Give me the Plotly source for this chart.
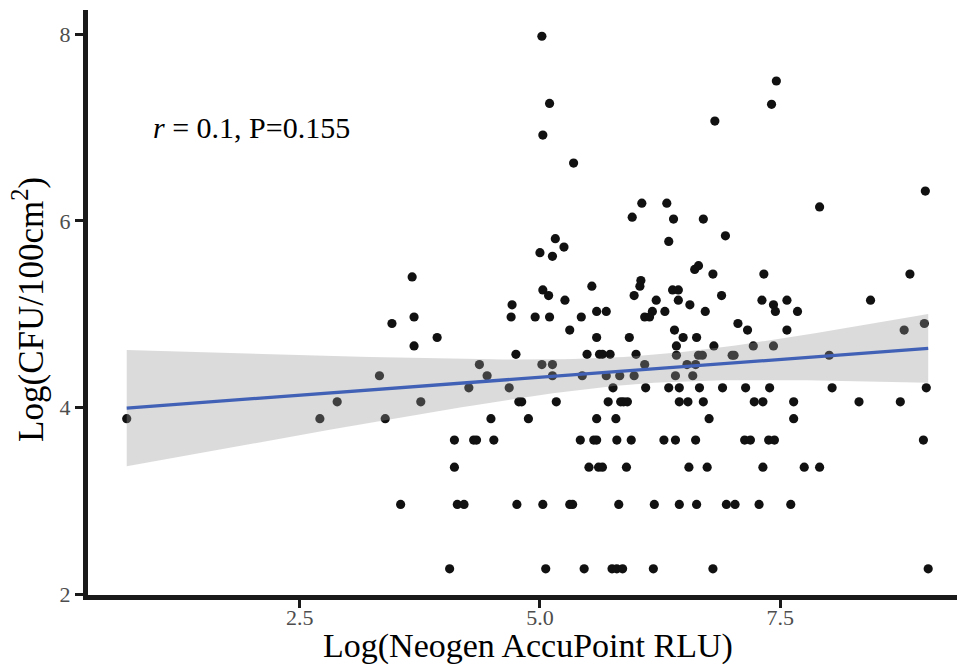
import numpy as np
import plotly.graph_objects as go

# Log(Neogen AccuPoint RLU)
rlu_log = [
    0.70, 2.71, 2.89, 3.33, 3.39, 5.02, 5.10, 5.03, 5.35, 6.06, 6.32, 5.96, 6.39, 6.34, 5.16, 5.25,
    5.00, 5.13, 3.67, 5.03, 5.09, 5.26, 5.54, 6.05, 6.04, 5.98, 6.21, 6.38, 6.44, 6.44, 4.71, 3.69,
    4.70, 4.95, 5.10, 5.43, 5.59, 5.69, 6.17, 6.09, 6.14, 6.30, 3.46, 3.69, 3.93, 5.31, 5.59, 5.93,
    6.40, 6.42, 6.42, 4.75, 5.49, 5.62, 5.65, 5.73, 6.00, 4.37, 5.02, 5.13, 6.09, 4.45, 5.13, 5.44,
    5.69, 5.83, 5.98, 6.41, 4.26, 4.68, 5.76, 6.10, 6.34, 6.45, 3.76, 4.78, 4.81, 5.17, 5.71, 5.84,
    5.87, 5.91, 6.45, 4.49, 4.88, 5.59, 5.79, 4.11, 4.31, 4.34, 4.52, 5.42, 5.56, 5.59, 5.80, 5.95,
    6.29, 6.41, 4.11, 5.51, 5.61, 5.65, 5.90, 3.55, 4.14, 4.21, 4.76, 5.03, 5.31, 5.34, 5.82, 6.19,
    6.45, 4.06, 5.06, 5.46, 5.75, 5.80, 5.86, 6.18, 7.46, 7.41, 6.82, 9.01, 7.91, 6.70, 6.93, 6.61,
    6.65, 6.80, 7.33, 8.85, 6.56, 6.89, 7.31, 7.43, 7.45, 7.57, 7.68, 8.44, 6.72, 7.06, 7.16, 7.57,
    8.79, 9.00, 6.49, 6.63, 6.81, 7.22, 7.43, 6.65, 6.69, 7.00, 7.02, 8.01, 6.53, 6.62, 6.59, 6.66,
    6.90, 7.14, 7.39, 8.04, 9.02, 6.54, 6.70, 7.23, 7.32, 7.64, 8.32, 8.75, 6.76, 7.64, 6.62, 7.13,
    7.19, 7.38, 7.44, 8.99, 6.55, 6.74, 7.32, 7.75, 7.91, 6.63, 6.94, 7.03, 7.28, 7.61, 6.80, 9.04,
]

# Log(CFU/100cm2)
cfu_log = [
    3.88, 3.88, 4.06, 4.34, 3.88, 7.98, 7.26, 6.92, 6.62, 6.19, 6.19, 6.04, 6.02, 5.78, 5.81, 5.72,
    5.66, 5.62, 5.40, 5.26, 5.20, 5.15, 5.30, 5.36, 5.30, 5.20, 5.15, 5.26, 5.26, 5.15, 5.10, 4.97,
    4.97, 4.97, 4.97, 4.97, 5.03, 5.03, 5.03, 4.97, 4.97, 5.03, 4.90, 4.66, 4.75, 4.83, 4.75, 4.75,
    4.83, 4.66, 4.56, 4.57, 4.57, 4.57, 4.57, 4.57, 4.57, 4.46, 4.46, 4.46, 4.46, 4.34, 4.34, 4.34,
    4.34, 4.34, 4.34, 4.34, 4.21, 4.21, 4.21, 4.21, 4.21, 4.21, 4.06, 4.06, 4.06, 4.06, 4.06, 4.06,
    4.06, 4.06, 4.06, 3.88, 3.88, 3.88, 3.88, 3.65, 3.65, 3.65, 3.65, 3.65, 3.65, 3.65, 3.65, 3.65,
    3.65, 3.65, 3.36, 3.36, 3.36, 3.36, 3.36, 2.96, 2.96, 2.96, 2.96, 2.96, 2.96, 2.96, 2.96, 2.96,
    2.96, 2.27, 2.27, 2.27, 2.27, 2.27, 2.27, 2.27, 7.50, 7.25, 7.07, 6.32, 6.15, 6.02, 5.84, 5.48,
    5.52, 5.43, 5.43, 5.43, 5.10, 5.20, 5.15, 5.10, 5.03, 5.15, 5.03, 5.15, 5.03, 4.90, 4.83, 4.83,
    4.83, 4.90, 4.75, 4.75, 4.66, 4.66, 4.66, 4.56, 4.56, 4.56, 4.56, 4.56, 4.46, 4.46, 4.34, 4.21,
    4.21, 4.21, 4.21, 4.21, 4.21, 4.06, 4.06, 4.06, 4.06, 4.06, 4.06, 4.06, 3.88, 3.88, 3.65, 3.65,
    3.65, 3.65, 3.65, 3.65, 3.36, 3.36, 3.36, 3.36, 3.36, 2.96, 2.96, 2.96, 2.96, 2.96, 2.27, 2.27,
]

x_tick_vals = [2.5, 5.0, 7.5]
x_tick_text = ["2.5", "5.0", "7.5"]
y_tick_vals = [2, 4, 6, 8]
y_tick_text = ["2", "4", "6", "8"]

annotation_text = "<i>r</i> = 0.1, P=0.155"
x_title = "Log(Neogen AccuPoint RLU)"
y_title = "Log(CFU/100cm<sup>2</sup>)"

# linear fit with 95% confidence band (like geom_smooth(method="lm"))
xa = np.array(rlu_log)
ya = np.array(cfu_log)
n = len(xa)
slope, intercept = np.polyfit(xa, ya, 1)
resid = ya - (intercept + slope * xa)
s = np.sqrt(np.sum(resid ** 2) / (n - 2))
sxx = np.sum((xa - xa.mean()) ** 2)
t_crit = 1.972
xs = np.linspace(xa.min(), xa.max(), 80)
fit = intercept + slope * xs
se = s * np.sqrt(1.0 / n + (xs - xa.mean()) ** 2 / sxx)
upper = fit + t_crit * se
lower = fit - t_crit * se

fig = go.Figure()
fig.add_trace(go.Scatter(
    x=rlu_log, y=cfu_log, mode="markers",
    marker=dict(size=9.2, color="#111111", line=dict(width=0)),
    hoverinfo="skip", showlegend=False,
))
fig.add_trace(go.Scatter(
    x=np.concatenate([xs, xs[::-1]]), y=np.concatenate([upper, lower[::-1]]),
    fill="toself", fillcolor="rgba(153,153,153,0.35)", line=dict(width=0),
    mode="lines", hoverinfo="skip", showlegend=False,
))
fig.add_trace(go.Scatter(
    x=xs, y=fit, mode="lines", line=dict(color="#4161B6", width=3.3),
    hoverinfo="skip", showlegend=False,
))

FONT = "Liberation Serif"
fig.update_layout(
    width=957, height=664,
    margin=dict(l=88, r=0, t=10, b=69, autoexpand=False),
    paper_bgcolor="white", plot_bgcolor="white",
    font=dict(family=FONT, color="#000000"),
    xaxis=dict(
        range=[0.2971, 9.3397], showgrid=False, zeroline=False,
        showline=True, linecolor="#1a1a1a", linewidth=5,
        ticks="outside", ticklen=8, tickwidth=3, tickcolor="#1a1a1a",
        tickvals=x_tick_vals, ticktext=x_tick_text, ticklabelstandoff=-9,
        tickfont=dict(family=FONT, size=22, color="#4d4d4d"),
    ),
    yaxis=dict(
        range=[1.9893, 8.2614], showgrid=False, zeroline=False,
        showline=True, linecolor="#1a1a1a", linewidth=5,
        ticks="outside", ticklen=8, tickwidth=3, tickcolor="#1a1a1a",
        tickvals=y_tick_vals, ticktext=y_tick_text,
        tickfont=dict(family=FONT, size=22, color="#4d4d4d"),
    ),
    annotations=[
        dict(x=0.9527, y=7.0, xref="x", yref="y", text=annotation_text, showarrow=False,
             xanchor="left", yanchor="middle", font=dict(family=FONT, size=30, color="#000")),
        dict(x=0.5063, y=-0.0872, xref="paper", yref="paper", text=x_title, showarrow=False,
             xanchor="center", yanchor="middle", font=dict(family=FONT, size=34, color="#000")),
        dict(x=-0.068, y=0.4889, xref="paper", yref="paper", text=y_title, showarrow=False,
             textangle=-90, xanchor="center", yanchor="middle",
             font=dict(family=FONT, size=35, color="#000")),
    ],
)

fig.write_html("out.html", config={"displayModeBar": False},
               post_script="document.body.style.margin='0';document.body.style.overflow='hidden';")
